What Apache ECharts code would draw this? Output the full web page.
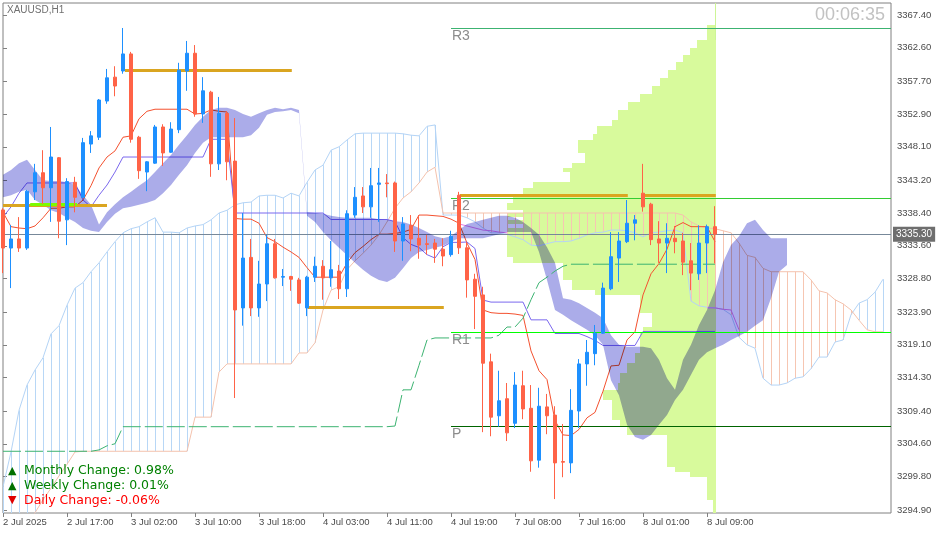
<!DOCTYPE html>
<html>
<head>
<meta charset="utf-8">
<title>XAUUSD,H1</title>
<script src="https://cdn.jsdelivr.net/npm/echarts@6/dist/echarts.min.js"></script>
<style>
  html, body { margin: 0; padding: 0; background: #ffffff; }
  #chart { width: 937px; height: 534px; }
  /* the filled cloud lives on its own canvas layer and is multiplied onto the layer below */
  #chart canvas[data-zr-dom-id="zr_1"] { mix-blend-mode: multiply; }
</style>
</head>
<body>
<div id="chart"></div>
<script>
// ---------------- data ----------------
const symbolTitle = 'XAUUSD,H1';
const timerText = '00:06:35';

const xLabels = ['2 Jul 2025', '2 Jul 17:00', '3 Jul 02:00', '3 Jul 10:00', '3 Jul 18:00', '4 Jul 03:00',
  '4 Jul 11:00', '4 Jul 19:00', '7 Jul 08:00', '7 Jul 16:00', '8 Jul 01:00', '8 Jul 09:00'];
const xLabelBars = [0, 8, 16, 24, 32, 40, 48, 56, 64, 72, 80, 88];

const yTicks = [3294.9, 3299.8, 3304.6, 3309.4, 3314.3, 3319.1, 3323.9, 3328.8, 3333.6, 3338.4,
  3343.2, 3348.1, 3352.9, 3357.7, 3362.6, 3367.4];

// H1 candles, one per bar
const candleOpen = [3338.85, 3333.27, 3334.6, 3333.27, 3341.5, 3344.3, 3342.1, 3346.5, 3337.4, 3342.9,
  3340.7, 3348.5, 3349.5, 3354.8, 3358.3, 3359.2, 3361.7, 3349.5, 3344.4, 3345.7,
  3351.0, 3347.3, 3350.6, 3359.2, 3361.8, 3352.9, 3356.1, 3345.6, 3353.0, 3346.0,
  3324.5, 3331.9, 3324.5, 3328.0, 3333.9, 3329.0, 3329.1, 3328.6, 3324.5, 3329.0,
  3330.6, 3328.9, 3329.9, 3327.3, 3338.1, 3340.9, 3339.3, 3342.6, 3342.8, 3342.8,
  3334.3, 3336.6, 3334.7, 3333.9, 3334.0, 3333.1, 3332.3, 3341.0, 3333.3, 3328.7,
  3326.4, 3316.6, 3308.7, 3311.2, 3307.6, 3313.1, 3309.8, 3302.2, 3310.0, 3308.8,
  3302.0, 3301.8, 3309.4, 3316.3, 3317.8, 3320.8, 3327.3, 3331.8, 3334.2, 3336.9,
  3341.3, 3339.7, 3334.6, 3334.0, 3334.7, 3334.3, 3331.4, 3329.5, 3334.0, 3336.4];
const candleClose = [3333.27, 3334.6, 3333.27, 3341.6, 3344.3, 3342.1, 3346.6, 3337.2, 3343.0, 3340.7,
  3348.7, 3349.7, 3354.95, 3358.2, 3357.0, 3361.7, 3349.2, 3344.6, 3345.9, 3351.0,
  3347.2, 3350.7, 3359.3, 3361.8, 3352.9, 3356.3, 3345.6, 3353.0, 3345.9, 3324.2,
  3331.8, 3324.5, 3328.0, 3333.9, 3328.9, 3329.1, 3328.7, 3325.2, 3329.0, 3330.6,
  3328.9, 3330.1, 3327.3, 3338.3, 3340.7, 3339.3, 3342.4, 3342.8, 3342.7, 3334.3,
  3336.8, 3334.6, 3333.7, 3333.8, 3333.1, 3332.1, 3335.0, 3333.3, 3328.6, 3326.2,
  3316.4, 3308.5, 3310.9, 3306.2, 3313.2, 3309.7, 3302.1, 3310.1, 3308.7, 3301.8,
  3301.9, 3309.5, 3316.3, 3318.0, 3320.8, 3327.4, 3332.0, 3334.3, 3336.9, 3337.4,
  3339.3, 3334.5, 3334.0, 3334.7, 3334.2, 3331.2, 3329.6, 3334.0, 3336.4, 3335.3];
const candleLow = [3329.6, 3327.4, 3332.7, 3333.0, 3340.3, 3339.7, 3337.1, 3334.7, 3333.7, 3338.5,
  3340.6, 3347.2, 3349.1, 3354.4, 3355.5, 3358.8, 3348.7, 3343.4, 3341.6, 3345.6,
  3345.3, 3347.2, 3350.1, 3356.3, 3352.5, 3351.6, 3343.7, 3344.7, 3343.2, 3311.3,
  3321.9, 3323.3, 3323.2, 3325.5, 3328.8, 3327.7, 3327.0, 3325.1, 3323.3, 3328.3,
  3325.7, 3327.6, 3325.8, 3326.1, 3337.7, 3338.4, 3337.7, 3337.1, 3340.7, 3332.7,
  3331.4, 3332.8, 3331.7, 3332.3, 3331.1, 3330.6, 3332.0, 3332.4, 3326.0, 3321.4,
  3306.3, 3305.7, 3307.1, 3305.0, 3306.9, 3308.2, 3300.5, 3301.1, 3306.0, 3296.5,
  3299.7, 3300.3, 3306.9, 3313.1, 3316.1, 3320.7, 3327.1, 3328.3, 3334.0, 3334.4,
  3338.6, 3333.7, 3331.1, 3329.6, 3332.5, 3329.3, 3327.1, 3328.6, 3329.6, 3331.0];
const candleHigh = [3339.1, 3336.65, 3337.8, 3341.8, 3345.6, 3347.6, 3351.0, 3346.6, 3343.5, 3343.7,
  3349.4, 3350.4, 3355.1, 3359.5, 3359.9, 3365.5, 3362.0, 3349.7, 3346.0, 3351.3,
  3351.4, 3351.7, 3360.4, 3363.6, 3363.0, 3358.3, 3356.3, 3355.4, 3353.3, 3352.3,
  3338.4, 3334.6, 3331.4, 3335.2, 3334.6, 3330.2, 3329.2, 3328.9, 3329.2, 3332.0,
  3331.5, 3334.3, 3330.8, 3338.8, 3342.2, 3342.2, 3345.0, 3345.0, 3344.1, 3343.0,
  3337.8, 3338.1, 3338.1, 3335.2, 3334.6, 3334.7, 3335.8, 3341.5, 3334.2, 3329.5,
  3327.6, 3317.8, 3315.3, 3313.5, 3315.1, 3315.3, 3313.2, 3312.8, 3311.9, 3310.1,
  3307.5, 3312.6, 3317.0, 3319.8, 3322.0, 3328.2, 3335.6, 3335.6, 3340.3, 3338.1,
  3345.6, 3339.9, 3337.2, 3336.9, 3336.5, 3335.5, 3334.0, 3336.6, 3336.7, 3339.4];

// Ichimoku: conversion and base lines
const tenkan = [3338.5, 3336.4, 3336.2, 3336.1, 3336.5, 3337.7, 3339.1, 3339.1, 3339.3, 3339.3,
  3340.3, 3342.4, 3345.0, 3346.6, 3347.5, 3349.5, 3349.7, 3352.2, 3353.3, 3353.6,
  3353.6, 3353.6, 3353.6, 3353.6, 3352.9, 3353.0, 3353.5, 3353.3, 3353.2, 3337.6,
  3337.5, 3337.5, 3336.9, 3334.8, 3334.2, 3333.4, 3332.7, 3331.9, 3330.4, 3329.0,
  3329.0, 3329.0, 3329.0, 3331.1, 3332.6, 3333.5, 3334.5, 3335.3, 3335.3, 3335.4,
  3335.6, 3336.0, 3338.1, 3338.1, 3338.0, 3337.9, 3337.5, 3336.9, 3334.0, 3331.6,
  3324.2, 3323.8, 3323.7, 3323.7, 3323.6, 3323.4, 3318.2, 3315.3, 3314.0, 3308.0,
  3305.9, 3305.8, 3306.7, 3308.4, 3309.2, 3312.3, 3316.0, 3316.1, 3319.8, 3321.0,
  3326.4, 3329.5, 3331.0, 3333.1, 3336.4, 3337.0, 3336.4, 3336.4, 3336.4, 3334.2];
const kijun = [3337.8, 3339.3, 3341.3, 3342.8, 3342.8, 3342.8, 3342.8, 3342.8, 3342.8, 3342.8,
  3340.3, 3339.3, 3341.0, 3342.5, 3344.4, 3346.6, 3346.6, 3346.6, 3346.6, 3346.6,
  3346.6, 3346.6, 3346.6, 3346.6, 3346.6, 3346.6, 3349.2, 3349.2, 3349.2, 3338.4,
  3338.4, 3338.4, 3338.4, 3338.4, 3338.4, 3338.4, 3338.4, 3338.4, 3338.4, 3338.4,
  3338.4, 3337.45, 3337.45, 3337.45, 3337.45, 3337.45, 3337.45, 3337.45, 3337.45, 3337.15,
  3334.8, 3333.8, 3333.35, 3332.3, 3331.8, 3333.45, 3334.1, 3334.1, 3334.15, 3333.2,
  3325.65, 3325.35, 3325.35, 3325.35, 3325.35, 3325.35, 3322.75, 3322.75, 3322.75, 3320.75,
  3320.75, 3320.75, 3320.75, 3320.3, 3319.75, 3319.0, 3319.0, 3319.0, 3319.0, 3319.0,
  3321.05, 3321.05, 3321.05, 3321.05, 3321.05, 3321.05, 3321.05, 3321.05, 3321.05, 3321.05];

// Ichimoku leading spans (run 21 bars past the last candle)
const spanA = [3298.3, 3303.4, 3309.5, 3313.2, 3315.4, 3317.2, 3320.7, 3321.9, 3324.9, 3327.4,
  3328.2, 3329.8, 3331.1, 3332.7, 3334.2, 3335.5, 3336.1, 3336.4, 3337.1, 3337.7,
  3335.6, 3335.6, 3335.5, 3336.2, 3336.5, 3336.7, 3337.4, 3338.4, 3338.8, 3339.6,
  3339.9, 3340.0, 3340.9, 3341.0, 3341.0, 3340.6, 3341.3, 3340.9, 3342.9, 3344.7,
  3345.4, 3347.6, 3348.1, 3349.1, 3350.0, 3350.1, 3350.1, 3350.1, 3350.1, 3350.1,
  3350.0, 3349.8, 3349.7, 3351.1, 3351.3, 3338.1, 3338.1, 3338.1, 3337.7, 3337.1,
  3336.2, 3335.5, 3335.5, 3335.3, 3334.9, 3334.5, 3333.7, 3333.6, 3333.9, 3334.2,
  3334.2, 3334.3, 3334.7, 3335.2, 3335.5, 3335.6, 3335.9, 3335.9, 3335.8, 3335.5,
  3334.9, 3335.5, 3335.6, 3335.8, 3335.9, 3335.5, 3325.5, 3324.8, 3324.6, 3324.5,
  3324.3, 3323.5, 3320.2, 3319.1, 3318.6, 3314.2, 3313.2, 3313.2, 3313.5, 3314.2,
  3314.4, 3315.6, 3317.3, 3317.3, 3319.5, 3319.8, 3323.5, 3325.2, 3325.7, 3326.8,
  3328.7];
const spanB = [3287.4, 3289.2, 3291.0, 3292.7, 3294.5, 3296.4, 3298.1, 3299.9, 3301.6, 3303.4,
  3303.5, 3303.5, 3303.5, 3303.5, 3303.5, 3303.5, 3303.5, 3303.5, 3303.5, 3303.5,
  3303.5, 3303.5, 3303.5, 3303.5, 3308.5, 3308.5, 3308.5, 3315.1, 3316.3, 3316.3,
  3316.3, 3316.3, 3316.3, 3316.3, 3316.3, 3316.3, 3316.3, 3317.9, 3317.9, 3319.4,
  3324.2, 3327.1, 3327.6, 3330.1, 3331.4, 3332.5, 3333.7, 3335.2, 3337.1, 3339.1,
  3340.6, 3341.5, 3342.8, 3344.4, 3345.1, 3338.4, 3338.4, 3338.4, 3338.4, 3338.4,
  3338.4, 3338.4, 3338.4, 3338.4, 3338.4, 3338.4, 3338.4, 3338.4, 3338.4, 3338.4,
  3338.4, 3338.4, 3338.4, 3338.4, 3338.4, 3338.4, 3338.4, 3338.4, 3338.4, 3338.4,
  3338.4, 3338.4, 3338.4, 3338.4, 3338.4, 3338.1, 3337.1, 3336.5, 3336.2, 3336.1,
  3335.8, 3335.5, 3334.0, 3332.2, 3331.9, 3330.3, 3329.8, 3329.8, 3329.8, 3329.8,
  3329.8, 3328.6, 3327.0, 3326.7, 3325.7, 3325.1, 3324.2, 3322.7, 3321.3, 3321.0,
  3321.0];

// second (filled) cloud: upper and lower edge per bar
const cloudA = [3344.0, 3344.7, 3345.7, 3346.2, 3344.7, 3343.2, 3343.1, 3343.1, 3342.9, 3342.5,
  3341.0, 3339.6, 3336.7, 3338.5, 3339.7, 3340.7, 3341.5, 3342.4, 3343.2, 3344.4,
  3345.7, 3346.9, 3348.4, 3349.8, 3351.3, 3352.5, 3353.5, 3353.8, 3353.8, 3353.5,
  3352.9, 3352.5, 3353.0, 3353.5, 3353.8, 3353.6, 3353.8, 3353.5, 3338.5, 3338.4,
  3338.3, 3338.0, 3337.8, 3337.7, 3337.7, 3337.7, 3337.7, 3337.5, 3337.4, 3337.2,
  3337.1, 3336.7, 3336.2, 3335.6, 3335.0, 3334.7, 3335.0, 3335.9, 3336.8, 3337.1,
  3337.4, 3337.7, 3338.0, 3338.0, 3337.7, 3337.1, 3336.2, 3335.2, 3333.4, 3331.1,
  3325.9, 3325.7, 3325.2, 3324.5, 3323.8, 3323.0, 3320.5, 3319.1, 3318.8, 3318.8,
  3318.8, 3318.6, 3316.9, 3314.2, 3312.5, 3316.9, 3319.1, 3322.0, 3324.2, 3327.1,
  3331.2, 3333.7, 3335.0, 3336.9, 3337.4, 3335.9, 3334.7, 3334.7, 3334.7];
const cloudB = [3340.7, 3341.0, 3341.5, 3341.8, 3340.3, 3339.6, 3338.8, 3338.4, 3337.7, 3337.1,
  3336.2, 3335.8, 3335.6, 3337.1, 3338.3, 3339.1, 3339.3, 3339.6, 3339.9, 3340.3,
  3341.3, 3342.5, 3344.0, 3345.4, 3347.2, 3348.7, 3349.5, 3349.5, 3349.5, 3349.5,
  3349.5, 3349.8, 3350.9, 3352.8, 3353.2, 3353.3, 3353.5, 3353.0, 3338.0, 3337.1,
  3335.6, 3334.4, 3333.3, 3332.2, 3331.1, 3330.1, 3329.2, 3328.6, 3328.3, 3328.9,
  3330.3, 3331.8, 3332.7, 3333.0, 3333.3, 3333.6, 3334.2, 3334.7, 3334.7, 3334.7,
  3334.7, 3335.0, 3335.3, 3335.6, 3335.6, 3335.6, 3335.6, 3332.7, 3328.6, 3324.2,
  3323.5, 3322.7, 3322.0, 3321.3, 3320.5, 3319.1, 3313.9, 3311.7, 3307.4, 3305.6,
  3305.2, 3305.9, 3307.4, 3308.8, 3311.0, 3312.5, 3314.7, 3316.9, 3318.0, 3318.6,
  3319.1, 3319.8, 3320.4, 3321.0, 3321.9, 3322.7, 3325.9, 3329.8, 3330.8];

// stepped dashed trend line
const stepLine = [3303.5, 3303.5, 3303.5, 3303.5, 3303.5, 3303.5, 3303.5, 3303.5, 3303.5, 3303.5,
  3303.5, 3303.5, 3303.7, 3304.3, 3304.6, 3307.1, 3307.1, 3307.1, 3307.1, 3307.1,
  3307.1, 3307.1, 3307.1, 3307.1, 3307.1, 3307.1, 3307.1, 3307.1, 3307.1, 3307.1,
  3307.1, 3307.1, 3307.1, 3307.1, 3307.1, 3307.1, 3307.1, 3307.1, 3307.1, 3307.1,
  3307.1, 3307.1, 3307.1, 3307.1, 3307.1, 3307.1, 3307.1, 3307.1, 3307.1, 3307.2,
  3312.5, 3312.5, 3316.1, 3319.8, 3320.1, 3320.1, 3320.1, 3320.1, 3320.1, 3320.1,
  3320.1, 3320.1, 3320.5, 3321.7, 3321.7, 3323.0, 3325.7, 3328.2, 3329.0, 3329.9,
  3330.6, 3330.9, 3330.9, 3330.9, 3330.9, 3330.9, 3330.9, 3330.9, 3330.9, 3330.9,
  3330.9, 3330.9, 3330.9, 3330.9, 3330.9, 3330.9, 3330.9, 3330.9, 3330.9, 3330.9];

// short violet span line (two pieces)
const accentBars = [57, 58, 59, 60, 61, 62, 63, 88, 89, 90, 91, 92];
const accentValues = [3336.8, 3336.5, 3336.2, 3335.9, 3335.8, 3335.6, 3335.5, 3324.5, 3324.5, 3324.3, 3324.2, 3321.3];

// volume profile: row price edges (top to bottom) and tick volume per row
const vpEdges = [3365.94, 3363.74, 3362.57, 3361.54, 3360.52, 3359.35, 3358.17, 3357.00, 3355.83, 3354.66,
  3353.49, 3352.02, 3351.14, 3349.97, 3349.09, 3347.19, 3345.72, 3344.99, 3344.40, 3342.94,
  3342.06, 3341.04, 3339.86, 3338.84, 3338.40, 3337.81, 3337.38, 3336.79, 3336.20, 3331.96,
  3331.08, 3328.59, 3327.12, 3326.39, 3323.75, 3322.73, 3321.70, 3320.82, 3317.89, 3316.43,
  3314.97, 3313.50, 3312.48, 3311.01, 3308.08, 3307.06, 3305.88, 3301.20, 3300.47, 3299.73,
  3296.36, 3294.46];
const vpVolume = [9, 19, 26, 33, 40, 48, 56, 64, 76, 88,
  98, 104, 119, 123, 138, 131, 144, 153, 146, 183,
  193, 203, 209, 193, 209, 193, 209, 193, 209, 203,
  153, 144, 121, 76, 64, 64, 73, 76, 81, 89,
  96, 98, 113, 104, 96, 89, 49, 41, 26, 9,
  3];

// daily pivot levels
const pivotNames = ['R3', 'R2', 'R1', 'P'];
const pivotValues = [3365.5, 3340.6, 3321.0, 3307.2];
const pivotFromBar = 56;

// session high/low marks
const goldLevels = [3359.34, 3339.57, 3324.63, 3341.04, 3341.1];
const goldFrom = [15.25, 0, 38.1, 57.1, 80];
const goldTo = [36.1, 13, 55.1, 78.1, 89.1];
const openLevel = 3339.7;
const openFrom = 3.4;
const openTo = 9.25;

// period change panel
const changeNames = ['Monthly', 'Weekly', 'Daily'];
const changeValues = [0.98, 0.01, -0.06];

// ---------------- drawing ----------------
const Y_MIN = 3294.46, Y_MAX = 3369.16, X_MAX = 111;
const FONT = '"Liberation Sans", Arial, sans-serif';
const BULL = '#1e90ff', BEAR = '#ff6347';
const HATCH_UP = '#b8d7f6', HATCH_DN = '#f6c6b2';
const PIVOT_COLORS = ['#3cb371', '#32cd32', '#00ff00', '#006400'];
// canvas layers: 0 = background indicators, 1 = multiplied cloud, 2 = price marks on top
const LAYER_BASE = 0, LAYER_CLOUD = 1, LAYER_TOP = 2;

const clampY = v => Math.min(Y_MAX, Math.max(Y_MIN, v));
const crisp = v => Math.round(v) + 0.5;
const toLine = arr => arr.map((v, i) => [i, v]);
const labelAt = new Map(xLabelBars.map((b, k) => [b, xLabels[k]]));

const candles = candleOpen.map((o, i) => [i, o, candleClose[i], candleLow[i], candleHigh[i]]);
const lastClose = candleClose[candleClose.length - 1];
const VP_ANCHOR = candles.length - 1 + 0.15;
const VP_BARS_PER_VOLUME = 1 / 8;
const vpRows = vpVolume.map((v, k) => [vpEdges[k], vpEdges[k + 1], v]);
const hatchRows = spanA.map((a, i) => [i, a, spanB[i]]);

const accentData = [];
accentBars.forEach((b, k) => {
  if (k > 0 && b - accentBars[k - 1] > 1) accentData.push([b - 0.5, null]);
  accentData.push([b, accentValues[k]]);
});

const levelRows = goldLevels.map((p, k) => [goldFrom[k], p, goldTo[k], 0]);
levelRows.push([openFrom, openLevel, openTo, 1]);

const chart = echarts.init(document.getElementById('chart'), null, { renderer: 'canvas' });

const option = {
  animation: false,
  backgroundColor: '#ffffff',
  textStyle: { fontFamily: FONT },
  grid: { left: 3, right: 46, top: 3, bottom: 21, show: true, borderColor: '#808080', borderWidth: 1 },
  xAxis: {
    type: 'value', min: 0, max: X_MAX,
    axisLine: { show: false }, splitLine: { show: false },
    axisTick: { show: true, customValues: xLabelBars, length: 4, lineStyle: { color: '#808080' } },
    axisLabel: {
      customValues: xLabelBars, formatter: v => labelAt.get(v) || '',
      align: 'left', margin: 4, color: '#4a4a4a', fontSize: 9.5, fontFamily: FONT
    }
  },
  yAxis: {
    type: 'value', position: 'right', min: Y_MIN, max: Y_MAX,
    axisLine: { show: false }, splitLine: { show: false },
    axisTick: { show: true, customValues: yTicks, length: 4, lineStyle: { color: '#808080' } },
    axisLabel: {
      customValues: yTicks, formatter: v => v.toFixed(2),
      margin: 6, color: '#4a4a4a', fontSize: 9.5, fontFamily: FONT
    }
  },
  series: [
    { // volume profile histogram anchored at the last bar
      type: 'custom', name: 'Volume profile', zlevel: LAYER_BASE, z: 1, silent: true,
      data: vpRows, encode: { x: 2, y: [0, 1] },
      renderItem: (params, api) => {
        const a = api.coord([VP_ANCHOR - api.value(2) * VP_BARS_PER_VOLUME, api.value(0)]);
        const b = api.coord([VP_ANCHOR, api.value(1)]);
        const x0 = Math.round(a[0]), x1 = Math.round(b[0]);
        const y0 = Math.round(a[1]), y1 = Math.round(b[1]);
        const rect = { type: 'rect', shape: { x: x0, y: y0, width: x1 - x0, height: y1 - y0 },
          style: { fill: '#d8fa9c' } };
        if (params.dataIndex !== 0) return rect;
        const t = api.coord([VP_ANCHOR, Y_MAX]), u = api.coord([VP_ANCHOR, Y_MIN]);
        return { type: 'group', children: [rect, { type: 'line',
          shape: { x1: crisp(t[0]) - 1, y1: t[1], x2: crisp(t[0]) - 1, y2: u[1] },
          style: { stroke: '#cdf596', lineWidth: 1 } }] };
      }
    },
    { // hatching between the leading spans
      type: 'custom', name: 'Kumo hatch', zlevel: LAYER_BASE, z: 2, silent: true,
      data: hatchRows, encode: { x: 0, y: [1, 2] },
      renderItem: (params, api) => {
        const i = api.value(0), a = api.value(1), b = api.value(2);
        const p1 = api.coord([i, clampY(Math.max(a, b))]);
        const p2 = api.coord([i, clampY(Math.min(a, b))]);
        const x = crisp(p1[0]);
        return { type: 'line', shape: { x1: x, y1: p1[1], x2: x, y2: p2[1] },
          style: { stroke: a >= b ? HATCH_UP : HATCH_DN, lineWidth: 1 } };
      }
    },
    { type: 'line', name: 'Senkou Span A', zlevel: LAYER_BASE, z: 2, data: toLine(spanA), showSymbol: false, silent: true,
      lineStyle: { color: '#b4d4f6', width: 1 } },
    { type: 'line', name: 'Senkou Span B', zlevel: LAYER_BASE, z: 2, data: toLine(spanB), showSymbol: false, silent: true,
      lineStyle: { color: '#f4c2ad', width: 1 } },
    { type: 'line', name: 'Tenkan-sen', zlevel: LAYER_BASE, z: 3, data: toLine(tenkan), showSymbol: false, silent: true,
      lineStyle: { color: '#f4512f', width: 1 } },
    { type: 'line', name: 'Kijun-sen', zlevel: LAYER_BASE, z: 3, data: toLine(kijun), showSymbol: false, silent: true,
      lineStyle: { color: '#7b68ee', width: 1 } },
    { type: 'line', name: 'Span', zlevel: LAYER_BASE, z: 3, data: accentData, showSymbol: false, silent: true,
      connectNulls: false, lineStyle: { color: '#e47fe4', width: 1 } },
    { // filled cloud on its own layer
      type: 'custom', name: 'Cloud', zlevel: LAYER_CLOUD, z: 1, silent: true,
      data: [[0, cloudA[0]]], encode: { x: 0, y: 1 },
      renderItem: (params, api) => {
        const pts = [];
        for (let i = 0; i < cloudA.length; i++) pts.push(api.coord([i, cloudA[i]]));
        for (let i = cloudB.length - 1; i >= 0; i--) pts.push(api.coord([i, cloudB[i]]));
        return { type: 'polygon', shape: { points: pts }, style: { fill: '#abace9' } };
      }
    },
    { type: 'line', name: 'Step', zlevel: LAYER_TOP, z: 1, data: toLine(stepLine), showSymbol: false, silent: true,
      lineStyle: { color: '#3cb371', width: 1, type: [18, 4] },
      markLine: {
        silent: true, symbol: 'none', animation: false,
        lineStyle: { color: '#778899', width: 1, type: 'solid' },
        label: { show: true, position: 'end', distance: 2, formatter: p => Number(p.value).toFixed(2),
          backgroundColor: '#6e6e6e', color: '#ffffff', padding: [3, 3, 2, 3], fontSize: 10, fontFamily: FONT },
        data: [{ yAxis: lastClose }]
      }
    },
    { // session high/low marks
      type: 'custom', name: 'Levels', zlevel: LAYER_TOP, z: 2, silent: true,
      data: levelRows, encode: { x: [0, 2], y: 1 },
      renderItem: (params, api) => {
        const a = api.coord([api.value(0), api.value(1)]);
        const b = api.coord([api.value(2), api.value(1)]);
        const y = Math.round(a[1]) + 0.5;
        return { type: 'line', shape: { x1: a[0], y1: y, x2: b[0], y2: y },
          style: { stroke: api.value(3) === 1 ? '#7cfc00' : '#daa520', lineWidth: 3 } };
      }
    },
    { // pivot levels with names
      type: 'custom', name: 'Pivots', zlevel: LAYER_TOP, z: 2, silent: true,
      data: pivotValues.map(v => [pivotFromBar, v]), encode: { x: 0, y: 1 },
      renderItem: (params, api) => {
        const k = params.dataIndex;
        const a = api.coord([api.value(0), api.value(1)]);
        const b = api.coord([X_MAX, api.value(1)]);
        const y = crisp(a[1]);
        return { type: 'group', children: [
          { type: 'line', shape: { x1: a[0], y1: y, x2: b[0], y2: y },
            style: { stroke: PIVOT_COLORS[k], lineWidth: 1 } },
          { type: 'text', x: a[0] + 1, y: y + 0.5,
            style: { text: pivotNames[k], fill: '#8c8c8c', font: '14px ' + FONT, verticalAlign: 'top' } }
        ] };
      }
    },
    {
      type: 'candlestick', name: symbolTitle, zlevel: LAYER_TOP, z: 3, silent: true,
      data: candles, encode: { x: 0, y: [1, 2, 3, 4] },
      barWidth: 4,
      itemStyle: { color: BULL, color0: BEAR, borderColor: BULL, borderColor0: BEAR, borderWidth: 1 }
    }
  ],
  graphic: [
    { type: 'text', x: 7, y: 5, zlevel: LAYER_TOP, z: 10,
      style: { text: symbolTitle, fill: '#707070', font: '10px ' + FONT } },
    { type: 'text', x: 885, y: 6, zlevel: LAYER_TOP, z: 10,
      style: { text: timerText, fill: '#c2c2c2', font: '18px ' + FONT, align: 'right' } }
  ].concat(changeValues.flatMap((v, k) => {
    const up = v >= 0;
    const col = up ? '#008000' : '#ff0000';
    const y = 471 + k * 14.8;
    return [
      { type: 'text', x: 8, y: y, zlevel: LAYER_TOP, z: 10,
        style: { text: up ? '▲' : '▼', fill: up ? '#007000' : '#e00000', font: '11px "DejaVu Sans"', verticalAlign: 'middle' } },
      { type: 'text', x: 24, y: y, zlevel: LAYER_TOP, z: 10,
        style: { text: changeNames[k] + ' Change: ' + v.toFixed(2) + '%', fill: col,
          font: '12.5px "DejaVu Sans"', verticalAlign: 'middle' } }
    ];
  }))
};

chart.setOption(option);
</script>
</body>
</html>
